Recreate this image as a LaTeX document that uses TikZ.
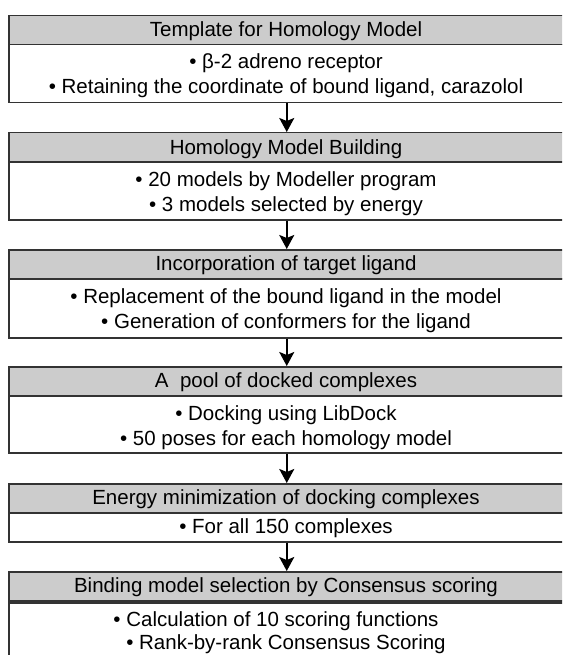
\documentclass[tikz,border=0pt]{standalone}
\usepackage{fontspec}
\setmainfont{Liberation Sans}
\usetikzlibrary{arrows.meta}
\tikzset{>={Stealth[length=14pt,width=15pt,inset=3pt]}}

\begin{document}
\begin{tikzpicture}[x=1pt, y=-1pt,
    every node/.style={font=\fontsize{20.5}{24}\selectfont, inner sep=0pt},
    headbox/.style={draw=black!80, line width=1.5pt, fill=black!20, minimum width=556pt, minimum height=29pt, anchor=north west},
    bodybox/.style={draw=black!80, line width=1.5pt, fill=white, minimum width=556pt, anchor=north west},
    txt/.style={anchor=base}]
    \useasboundingbox (0,0) rectangle (562,655);
    \clip (0,0) rectangle (562,655);
    % boxes
    \node[headbox] (h1) at (8,15) {};
    \node[bodybox, minimum height=58pt] (b1) at (8,44) {};
    \node[headbox] (h2) at (8,132) {};
    \node[bodybox, minimum height=57pt] (b2) at (8,162) {};
    \node[headbox] (h3) at (8,249) {};
    \node[bodybox, minimum height=59pt] (b3) at (8,278) {};
    \node[headbox] (h4) at (8,366) {};
    \node[bodybox, minimum height=57pt] (b4) at (8,395) {};
    \node[headbox] (h5) at (8,483) {};
    \node[bodybox, minimum height=29pt] (b5) at (8,512) {};
    \node[headbox] (h6) at (8,571) {};
    \node[bodybox, minimum height=80pt] (b6) at (8,602) {};
    % texts
    \node[txt] (t1) at (286,36.5) {Template for Homology Model};
    \node[txt] (l1a) at (286,69) {• β-2 adreno receptor};
    \node[txt] (l1b) at (286,94) {• Retaining the coordinate of bound ligand, carazolol};
    \node[txt] (t2) at (286,154) {Homology Model Building};
    \node[txt] (l2a) at (286,186) {• 20 models by Modeller program};
    \node[txt] (l2b) at (286,211.5) {• 3 models selected by energy};
    \node[txt] (t3) at (286,270.5) {Incorporation of target ligand};
    \node[txt] (l3a) at (286,303) {• Replacement of the bound ligand in the model};
    \node[txt] (l3b) at (286,328) {• Generation of conformers for the ligand};
    \node[txt] (t4) at (286,387.5) {A\ \ pool of docked complexes};
    \node[txt] (l4a) at (286,420) {• Docking using LibDock};
    \node[txt] (l4b) at (286,445) {• 50 poses for each homology model};
    \node[txt] (t5) at (286,504.5) {Energy minimization of docking complexes};
    \node[txt] (l5a) at (286,533.5) {• For all 150 complexes};
    \node[txt] (t6) at (286,592.5) {Binding model selection by Consensus scoring};
    \node[txt] (l6a) at (276,626) {• Calculation of 10 scoring functions};
    \node[txt] (l6b) at (286,649.5) {• Rank-by-rank Consensus Scoring};
    % arrows
    \foreach \a/\b in {b1/h2, b2/h3, b3/h4, b4/h5, b5/h6}
    \draw[->, line width=2pt] (\a) -- (\b);
\end{tikzpicture}
\end{document}
